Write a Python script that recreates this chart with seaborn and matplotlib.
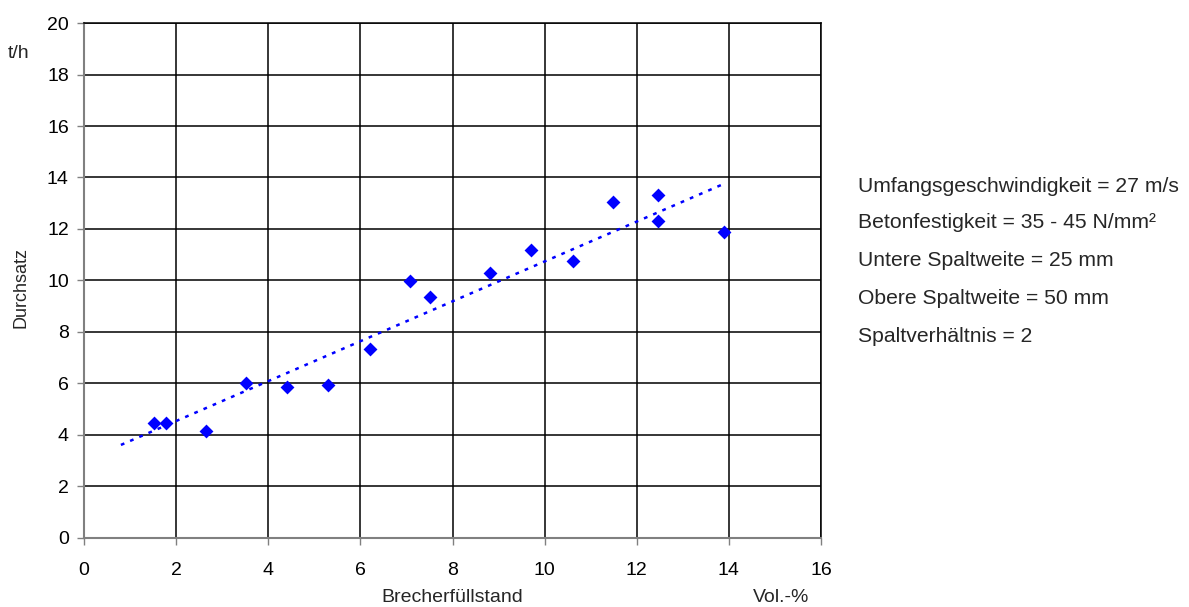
import numpy as np
import pandas as pd
import matplotlib
matplotlib.use("Agg")
import matplotlib.pyplot as plt
import seaborn as sns

fuellstand = [1.52, 1.78, 2.65, 3.52, 4.41, 5.30, 6.21, 7.08, 7.51, 8.81, 9.70, 10.62, 11.48, 12.46, 12.46, 13.89]
durchsatz = [4.47, 4.47, 4.16, 6.02, 5.86, 5.94, 7.34, 9.98, 9.36, 10.29, 11.18, 10.76, 13.05, 13.32, 12.31, 11.88]
x_ticks = [0, 2, 4, 6, 8, 10, 12, 14, 16]
y_ticks = [0, 2, 4, 6, 8, 10, 12, 14, 16, 18, 20]
info_lines = [
    "Umfangsgeschwindigkeit = 27 m/s",
    "Betonfestigkeit = 35 - 45 N/mm²",
    "Untere Spaltweite = 25 mm",
    "Obere Spaltweite = 50 mm",
    "Spaltverhältnis = 2",
]

sns.set_theme(style="white")
plt.rcParams['font.family'] = ['Liberation Sans', 'DejaVu Sans']

df = pd.DataFrame({"x": fuellstand, "y": durchsatz})

fig = plt.figure(figsize=(11.89, 6.07), dpi=100)
ax = fig.add_axes([0.0707, 0.1137, 0.6198, 0.8484])

# trend line (linear fit, extended backwards)
coef = np.polyfit(df["x"], df["y"], 1)
trend_x = np.array([0.8, max(fuellstand)])
trend_df = pd.DataFrame({"x": trend_x, "y": np.polyval(coef, trend_x)})
sns.lineplot(data=trend_df, x="x", y="y", ax=ax, color="#0000FF", linestyle=(0, (1.5, 2.5)), linewidth=1.8, zorder=3)

sns.scatterplot(data=df, x="x", y="y", ax=ax, marker="D", color="#0000FF", s=50, edgecolor="#0000FF", linewidth=0, zorder=4)

ax.set_xlim(0, 16)
ax.set_ylim(0, 20)
ax.set_xticks(x_ticks)
ax.set_yticks(y_ticks)
ax.grid(True, color="black", linewidth=1.1)
ax.set_axisbelow(True)
for s in ["top", "right"]:
    ax.spines[s].set_color("black")
    ax.spines[s].set_linewidth(1.1)
for s in ["left", "bottom"]:
    ax.spines[s].set_color("#808080")
    ax.spines[s].set_linewidth(1.5)
ax.tick_params(axis="y", direction="out", length=5, width=1, color="#808080",
               labelsize=14, labelcolor="black", left=True, pad=6)
ax.tick_params(axis="x", direction="out", length=5, width=1, color="#808080",
               labelsize=14, labelcolor="black", bottom=True, pad=12)
ax.set_xlabel("")
ax.set_ylabel("")

fig.text(21 / 1189, 1 - 288 / 607, "Durchsatz", rotation=90, ha="center", va="center", fontsize=13)
fig.text(19 / 1189, 1 - 54 / 607, "t/h", ha="center", va="center", fontsize=14)
fig.text(452 / 1189, 1 - 597 / 607, "Brecherfüllstand", ha="center", va="center", fontsize=14)
fig.text(781 / 1189, 1 - 597 / 607, "Vol.-%", ha="center", va="center", fontsize=14)

ys = [186, 223, 261, 299, 336]
for t, yp in zip(info_lines, ys):
    fig.text(858 / 1189, 1 - yp / 607, t, ha="left", va="center", fontsize=15.2)

fig.savefig("out.png", dpi=100, facecolor="white")
